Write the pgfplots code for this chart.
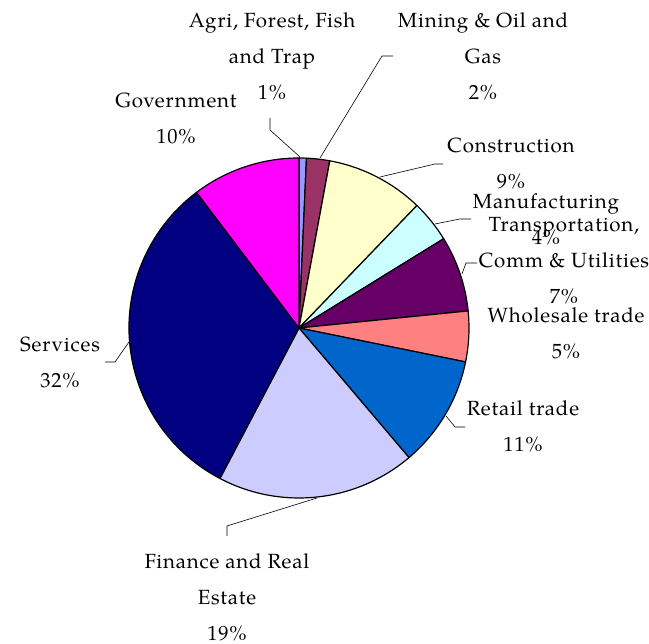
\documentclass[border=0pt]{standalone}
\usepackage{pgfplots}
\usepackage{pgfplotstable}
\pgfplotsset{compat=1.18}
\usepackage{fontspec}
\setmainfont{TeX Gyre Pagella}
\newfontfamily\labfont[LetterSpace=4]{TeX Gyre Pagella}
\definecolor{cAgri}{HTML}{9999FF}
\definecolor{cMining}{HTML}{993366}
\definecolor{cConst}{HTML}{FFFFCC}
\definecolor{cManuf}{HTML}{CCFFFF}
\definecolor{cTrans}{HTML}{660066}
\definecolor{cWhole}{HTML}{FF8080}
\definecolor{cRetail}{HTML}{0066CC}
\definecolor{cFin}{HTML}{CCCCFF}
\definecolor{cServ}{HTML}{000080}
\definecolor{cGov}{HTML}{FF00FF}
\pgfplotstableread{
idx value col
0 0.7 cAgri
1 2.2 cMining
2 9.3 cConst
3 4.0 cManuf
4 7.2 cTrans
5 4.8 cWhole
6 10.6 cRetail
7 18.9 cFin
8 32.0 cServ
9 10.3 cGov
}\piedata
\pgfplotstablecreatecol[create col/expr accum={\pgfmathaccuma + \thisrow{value}}{0}]{cum}\piedata
\begin{document}
\begin{tikzpicture}
\begin{axis}[
  width=649pt, height=644pt, scale only axis,
  xmin=0, xmax=649, ymin=0, ymax=644,
  hide axis, clip=false,
]
\coordinate (bbbl) at (axis cs:0,0);
\coordinate (bbtr) at (axis cs:649,644);
\pgfplotsinvokeforeach{0,...,9}{
  \pgfplotstablegetelem{#1}{cum}\of\piedata \let\cumv\pgfplotsretval
  \pgfplotstablegetelem{#1}{value}\of\piedata \let\valv\pgfplotsretval
  \pgfplotstablegetelem{#1}{col}\of\piedata \let\colv\pgfplotsretval
  \pgfmathsetmacro\angA{90-3.6*(\cumv-\valv)}
  \pgfmathsetmacro\angB{90-3.6*\cumv}
  \edef\tmp{\noexpand\filldraw[fill=\colv, draw=black, line width=1.2pt, line join=round]
    (axis cs:299,316) -- ++(\angA:170pt) arc[start angle=\angA, end angle=\angB, radius=170pt] -- cycle;}
  \tmp
}
% leader lines
\draw[line width=0.6pt] (axis cs:300,487) -- (axis cs:270,514) -- (axis cs:270,526);
\draw[line width=0.6pt] (axis cs:320,486) -- (axis cs:382,588) -- (axis cs:393,588);
\draw[line width=0.6pt] (axis cs:380,467) -- (axis cs:435,480) -- (axis cs:443,480);
\draw[line width=0.6pt] (axis cs:435,420) -- (axis cs:460,425) -- (axis cs:471,425);
\draw[line width=0.6pt] (axis cs:462,370) -- (axis cs:466,381) -- (axis cs:477,381);
\draw[line width=0.6pt] (axis cs:129,302) -- (axis cs:115,282) -- (axis cs:105,282);
\draw[line width=0.6pt] (axis cs:446,228) -- (axis cs:455,217) -- (axis cs:465,217);
\draw[line width=0.6pt] (axis cs:317,146) -- (axis cs:227,118) -- (axis cs:227,108);
% labels
\tikzset{lab/.style={align=center, font=\labfont\fontsize{20.5}{36}\selectfont, inner sep=0pt}}
\node[lab] at (axis cs:272,588) {Agri, Forest, Fish\\and Trap\\1\%};
\node[lab] at (axis cs:483,588) {Mining \& Oil and\\Gas\\2\%};
\node[lab] at (axis cs:176,526) {Government\\10\%};
\node[lab] at (axis cs:511,481) {Construction\\9\%};
\node[lab] at (axis cs:546,425) {Manufacturing\\4\%};
\node[lab] at (axis cs:564,383) {Transportation,\\Comm \& Utilities\\7\%};
\node[lab] at (axis cs:566,311) {Wholesale trade\\5\%};
\node[lab] at (axis cs:523,218) {Retail trade\\11\%};
\node[lab] at (axis cs:227,47) {Finance and Real\\Estate\\19\%};
\node[lab] at (axis cs:60,282) {Services\\32\%};
\end{axis}
\pgfresetboundingbox
\path[use as bounding box] (bbbl) rectangle (bbtr);
\end{tikzpicture}
\end{document}
